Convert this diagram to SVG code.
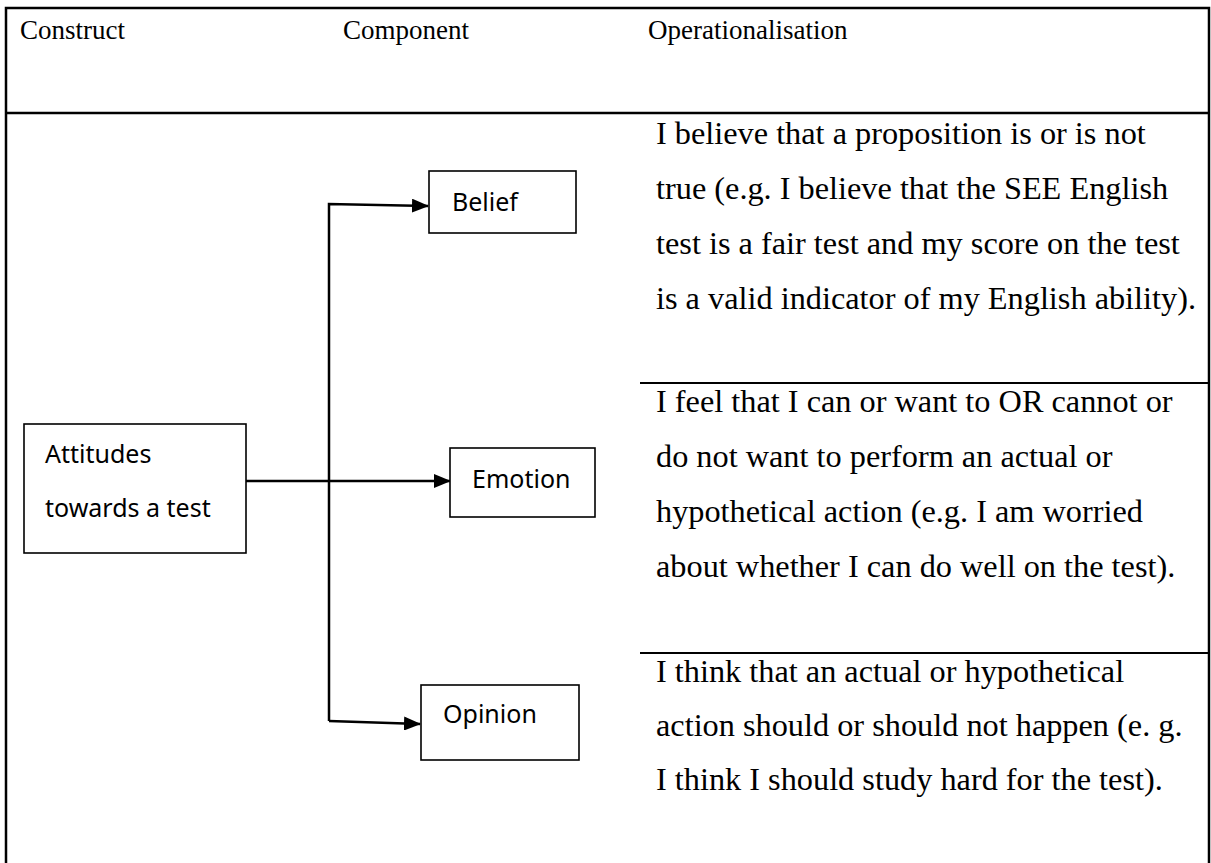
<svg xmlns="http://www.w3.org/2000/svg" width="1211" height="863" viewBox="0 0 1211 863">
<style>
.frame{stroke:#000;stroke-width:2.5;fill:none}
.div{stroke:#000;stroke-width:2;fill:none}
.box{fill:#fff;stroke:#000;stroke-width:1.6}
.conn{stroke:#000;stroke-width:2.5;fill:none}
.hdr{font-family:"Liberation Serif","Times New Roman",serif;font-size:27px;fill:#000}
.body{font-family:"Liberation Serif","Times New Roman",serif;font-size:32.3px;fill:#000}
.lbl{font-family:"Noto Sans","Open Sans",sans-serif;font-size:25px;fill:#000}
</style>
<defs>
<marker id="arr" markerUnits="userSpaceOnUse" markerWidth="17" markerHeight="14" refX="16" refY="7" orient="auto">
<path d="M0,0 L17,7 L0,14 Z" fill="#000"/>
</marker>
</defs>
<rect width="1211" height="863" fill="#fff"/>
<g id="table">
<path class="frame" d="M6,863 L6,8 L1209,8 L1209,863"/>
<line class="frame" x1="6" y1="113" x2="1209" y2="113"/>
<line class="div" x1="640" y1="383" x2="1209" y2="383"/>
<line class="div" x1="640" y1="653" x2="1209" y2="653"/>
<text class="hdr" x="20" y="39">Construct</text>
<text class="hdr" x="343" y="39">Component</text>
<text class="hdr" x="648" y="39">Operationalisation</text>
</g>
<g id="op-belief">
<text class="body" x="656" y="144">I believe that a proposition is or is not</text>
<text class="body" x="656" y="199">true (e.g. I believe that the SEE English</text>
<text class="body" x="656" y="254">test is a fair test and my score on the test</text>
<text class="body" x="656" y="309">is a valid indicator of my English ability).</text>
</g>
<g id="op-emotion">
<text class="body" x="656" y="412">I feel that I can or want to OR cannot or</text>
<text class="body" x="656" y="467">do not want to perform an actual or</text>
<text class="body" x="656" y="522">hypothetical action (e.g. I am worried</text>
<text class="body" x="656" y="577">about whether I can do well on the test).</text>
</g>
<g id="op-opinion">
<text class="body" x="656" y="682">I think that an actual or hypothetical</text>
<text class="body" x="656" y="736">action should or should not happen (e. g.</text>
<text class="body" x="656" y="790">I think I should study hard for the test).</text>
</g>
<g id="connectors">
<polyline class="conn" points="329,721 329,204 428,206" marker-end="url(#arr)"/>
<line class="conn" x1="329" y1="721" x2="420" y2="724" marker-end="url(#arr)"/>
<line class="conn" x1="246" y1="481" x2="450" y2="481" marker-end="url(#arr)"/>
</g>
<g id="attitudes">
<rect class="box" x="24" y="424" width="222" height="129"/>
<text class="lbl" x="45" y="463">Attitudes</text>
<text class="lbl" x="45" y="517">towards a test</text>
</g>
<g id="belief">
<rect class="box" x="429" y="171" width="147" height="62"/>
<text class="lbl" x="452" y="211">Belief</text>
</g>
<g id="emotion">
<rect class="box" x="450" y="448" width="145" height="69"/>
<text class="lbl" x="472" y="488">Emotion</text>
</g>
<g id="opinion">
<rect class="box" x="421" y="685" width="158" height="75"/>
<text class="lbl" x="443" y="723">Opinion</text>
</g>
</svg>
